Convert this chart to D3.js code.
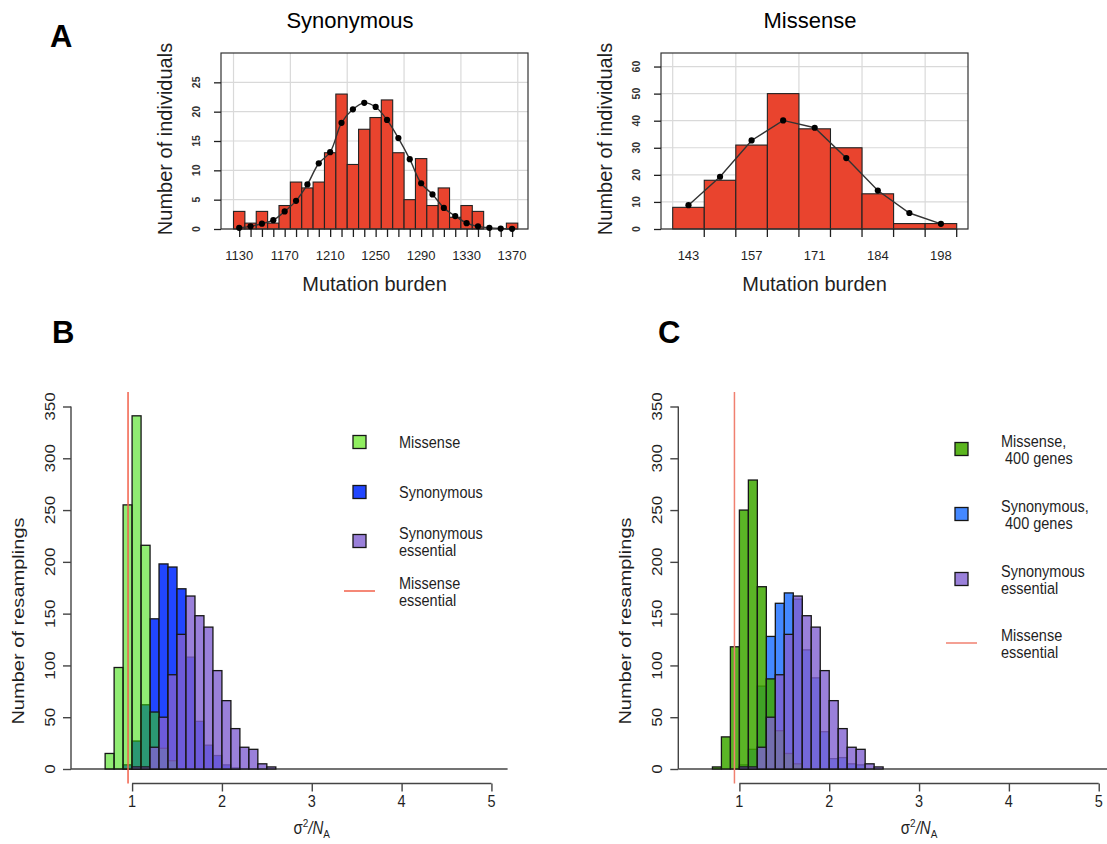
<!DOCTYPE html>
<html>
<head>
<meta charset="utf-8">
<script src="https://cdn.jsdelivr.net/npm/d3@7"></script>
<style>
  body { margin: 0; background: #fff; }
  svg { display: block; font-family: "Liberation Sans", Arial, Helvetica, sans-serif; }
</style>
</head>
<body>
<svg id="fig" width="1107" height="844"></svg>
<script>
// ---------- Panel A: per-individual mutation burden ----------
const synBurden   = [1130,1140,1150,1160,1170,1180,1190,1200,1210,1220,1230,1240,1250,1260,1270,1280,1290,1300,1310,1320,1330,1340,1350,1360,1370];
const synCounts   = [3,1,3,1,4,8,7,8,13,23,11,17,19,22,13,5,12,4,7,2,4,3,0,0,1];
const synExpected = [0.2,0.45,0.9,1.5,3.0,4.8,7.6,11.2,13.1,18.1,20.4,21.5,20.8,18.6,15.5,11.9,7.8,5.9,3.6,2.2,1.0,0.45,0.2,0.08,0.03];
const synXLabels  = [1130,1170,1210,1250,1290,1330,1370];
const synYTicks   = [0,5,10,15,20,25];
const synGridX    = [1125,1175,1225,1275,1325,1375];

const misBins     = ["143","150","157","164","171","177","184","191","198"];
const misCounts   = [8,18,31,50,37,30,13,2,2];
const misExpected = [8.8,19.3,32.7,40.1,37.4,26.2,14.2,5.9,1.9];
const misXLabels  = ["143","157","171","184","198"];
const misYTicks   = [0,10,20,30,40,50,60];

// ---------- Panels B and C: resampled sigma^2/N_A ----------
const binStarts   = [0.7,0.8,0.9,1.0,1.1,1.2,1.3,1.4,1.5,1.6,1.7,1.8,1.9,2.0,2.1,2.2,2.3,2.4,2.5];
const binWidth    = 0.1;
const bMissense   = [15,98,255,341,216,55,20,8,0,0,0,0,0,0,0,0,0,0,0];
const bSynonymous = [0,0,4,27,62,145,198,195,174,108,46,23,13,4,1,0,0,0,0];
const synEssential= [0,0,0,2,2,21,50,91,130,167,148,137,95,66,39,21,19,5,2];
const cMissense400= [2,31,118,250,279,176,87,37,15,5,0,0,0,0,0,0,0,0,0];
const cSynonym400 = [0,0,0,4,19,80,128,160,170,164,115,88,36,10,11,5,4,0,0];
const misEssentialB = 0.955;
const misEssentialC = 0.945;
const resampXTicks = [1,2,3,4,5];
const resampYTicks = [0,50,100,150,200,250,300,350];

const svg = d3.select("#fig");
const ink = "#1f1f1f";
const barRed = "#E9442E";

// panel letters
[["A", 50, 47], ["B", 52, 343], ["C", 658, 343]].forEach(([t, x, y]) => {
  svg.append("text").attr("x", x).attr("y", y).attr("font-size", 31)
     .attr("font-weight", "bold").attr("fill", "#000").text(t);
});

// ----- generic pieces for the two burden histograms -----
function burdenFrame(g, box, yScale, yTicks, title, titleX) {
  g.append("rect").attr("x", box.x0).attr("y", box.y0)
   .attr("width", box.x1 - box.x0).attr("height", box.y1 - box.y0)
   .attr("fill", "none").attr("stroke", "#333").attr("stroke-width", 1.2);
  const yAx = g.append("g").attr("transform", `translate(${box.x0},0)`)
    .call(d3.axisLeft(yScale).tickValues(yTicks).tickSize(7).tickFormat(""));
  yAx.select(".domain").remove();
  yAx.selectAll("line").attr("stroke", ink).attr("stroke-width", 1.3);
  g.selectAll(null).data(yTicks).join("text")
    .attr("transform", d => `translate(${box.x0 - 21},${yScale(d)}) rotate(-90)`)
    .attr("text-anchor", "middle").attr("font-size", 10.5).attr("font-weight", "bold").attr("fill", "#333")
    .text(d => d);
  g.append("text").attr("transform", `translate(${box.x0 - 56},${(box.y0 + box.y1) / 2 - 2}) rotate(-90)`)
    .attr("text-anchor", "middle").attr("dy", "0.35em").attr("font-size", 20).attr("fill", ink)
    .text("Number of individuals");
  g.append("text").attr("x", (box.x0 + box.x1) / 2).attr("y", 291)
    .attr("text-anchor", "middle").attr("font-size", 20).attr("fill", ink).text("Mutation burden");
  g.append("text").attr("x", titleX).attr("y", 28)
    .attr("text-anchor", "middle").attr("font-size", 22).attr("fill", "#000").text(title);
}

// ----- Synonymous burden -----
{
  const box = { x0: 221, x1: 528, y0: 53, y1: 229 };
  const x = d3.scaleLinear().domain([1114, 1384]).range([box.x0, box.x1]);
  const y = d3.scaleLinear().domain([0, 30]).range([box.y1, box.y0]);
  const g = svg.append("g");
  g.selectAll(null).data(synGridX).join("line")
    .attr("x1", d => x(d)).attr("x2", d => x(d)).attr("y1", box.y0).attr("y2", box.y1)
    .attr("stroke", "#d9d9d9").attr("stroke-width", 1.2);
  g.selectAll(null).data(synYTicks).join("line")
    .attr("x1", box.x0).attr("x2", box.x1).attr("y1", d => y(d)).attr("y2", d => y(d))
    .attr("stroke", "#d9d9d9").attr("stroke-width", 1.2);
  g.selectAll(null).data(synBurden.map((b, i) => ({ b, c: synCounts[i] })).filter(d => d.c > 0)).join("rect")
    .attr("x", d => x(d.b - 5)).attr("width", d => x(d.b + 5) - x(d.b - 5))
    .attr("y", d => y(d.c)).attr("height", d => y(0) - y(d.c))
    .attr("fill", barRed).attr("stroke", "#222").attr("stroke-width", 1.1);
  burdenFrame(g, box, y, synYTicks, "Synonymous", 350);
  const xAx = g.append("g").attr("transform", `translate(0,${box.y1})`)
    .call(d3.axisBottom(x).tickValues(synBurden).tickSize(8).tickFormat(""));
  xAx.select(".domain").remove();
  xAx.selectAll("line").attr("stroke", ink).attr("stroke-width", 1.3);
  g.selectAll(null).data(synXLabels).join("text")
    .attr("x", d => x(d)).attr("y", 260).attr("text-anchor", "middle")
    .attr("font-size", 13).attr("fill", ink).text(d => d);
  const pts = synBurden.map((b, i) => [x(b), y(synExpected[i])]);
  g.append("path").attr("d", d3.line().curve(d3.curveCatmullRom)(pts))
    .attr("fill", "none").attr("stroke", "#333").attr("stroke-width", 1.4);
  g.selectAll(null).data(pts).join("circle")
    .attr("cx", d => d[0]).attr("cy", d => d[1]).attr("r", 3.1).attr("fill", "#000");
}

// ----- Missense burden -----
{
  const box = { x0: 661, x1: 968, y0: 53, y1: 229 };
  const x = d3.scaleBand().domain(misBins).range([672.7, 956.7]).paddingInner(0).paddingOuter(0);
  const y = d3.scaleLinear().domain([0, 65]).range([box.y1, box.y0]);
  const g = svg.append("g");
  const gridBins = misBins.filter((_, i) => i % 2 === 0);
  g.selectAll(null).data(gridBins).join("line")
    .attr("x1", d => x(d)).attr("x2", d => x(d)).attr("y1", box.y0).attr("y2", box.y1)
    .attr("stroke", "#d9d9d9").attr("stroke-width", 1.2);
  g.selectAll(null).data(misYTicks).join("line")
    .attr("x1", box.x0).attr("x2", box.x1).attr("y1", d => y(d)).attr("y2", d => y(d))
    .attr("stroke", "#d9d9d9").attr("stroke-width", 1.2);
  g.selectAll(null).data(misBins.map((b, i) => ({ b, c: misCounts[i] }))).join("rect")
    .attr("x", d => x(d.b)).attr("width", x.bandwidth())
    .attr("y", d => y(d.c)).attr("height", d => y(0) - y(d.c))
    .attr("fill", barRed).attr("stroke", "#222").attr("stroke-width", 1.1);
  burdenFrame(g, box, y, misYTicks, "Missense", 810);
  const xAx = g.append("g").attr("transform", `translate(${x.bandwidth() / 2},${box.y1})`)
    .call(d3.axisBottom(x).tickSize(8).tickFormat(""));
  xAx.select(".domain").remove();
  xAx.selectAll("line").attr("stroke", ink).attr("stroke-width", 1.3);
  g.selectAll(null).data(misXLabels).join("text")
    .attr("x", d => x(d) + x.bandwidth() / 2).attr("y", 260).attr("text-anchor", "middle")
    .attr("font-size", 13).attr("fill", ink).text(d => d);
  const pts = misBins.map((b, i) => [x(b) + x.bandwidth() / 2, y(misExpected[i])]);
  g.append("path").attr("d", d3.line()(pts))
    .attr("fill", "none").attr("stroke", "#333").attr("stroke-width", 1.4);
  g.selectAll(null).data(pts).join("circle")
    .attr("cx", d => d[0]).attr("cy", d => d[1]).attr("r", 3.1).attr("fill", "#000");
}

// ----- resampling histograms -----
const stretch = 1.18;
function resamplePanel(o) {
  const g = svg.append("g");
  const x = d3.scaleLinear().domain([0.32, 5.18]).range([o.x0, o.x0 + 436.6]);
  const y = d3.scaleLinear().domain([-14, 364]).range([783.5, 392]);

  // baseline
  g.append("line").attr("x1", o.x0).attr("x2", x(5.18)).attr("y1", y(0)).attr("y2", y(0))
    .attr("stroke", "#444").attr("stroke-width", 1.4);

  o.series.forEach(s => {
    const data = binStarts.map((b, i) => ({ b, c: s.values[i] })).filter(d => d.c > 0);
    g.selectAll(null).data(data).join("rect")
      .attr("x", d => x(d.b)).attr("width", d => x(d.b + binWidth) - x(d.b))
      .attr("y", d => y(d.c)).attr("height", d => y(0) - y(d.c))
      .attr("fill", s.fill).attr("stroke", "#161616").attr("stroke-width", 1.3);
  });

  // vertical reference line
  g.append("line").attr("x1", x(o.refValue)).attr("x2", x(o.refValue))
    .attr("y1", y(364)).attr("y2", y(-14)).attr("stroke", o.refColor).attr("stroke-width", 1.5);

  // y axis
  const yAx = g.append("g").attr("transform", `translate(${o.x0},0)`)
    .call(d3.axisLeft(y).tickValues(resampYTicks).tickSize(8).tickFormat("").tickSizeOuter(0));
  yAx.select(".domain").attr("d", `M0,${y(0)}V${y(350)}`).attr("stroke", "#444").attr("stroke-width", 1.4);
  yAx.selectAll("line").attr("stroke", "#444").attr("stroke-width", 1.4);
  g.selectAll(null).data(resampYTicks).join("text")
    .attr("transform", d => `translate(${o.x0 - 16},${y(d)}) rotate(-90) scale(${stretch},1)`)
    .attr("text-anchor", "middle").attr("font-size", 14.5).attr("fill", ink).text(d => d);
  g.append("text")
    .attr("transform", `translate(${o.x0 - 47},${621}) rotate(-90) scale(${stretch},1)`)
    .attr("text-anchor", "middle").attr("font-size", 17).attr("fill", ink)
    .text("Number of resamplings");

  // x axis
  const xAx = g.append("g").attr("transform", `translate(0,${y(-14)})`)
    .call(d3.axisBottom(x).tickValues(resampXTicks).tickSize(8).tickFormat("").tickSizeOuter(0));
  xAx.select(".domain").attr("d", `M${x(1)},0H${x(5)}`).attr("stroke", "#444").attr("stroke-width", 1.4);
  xAx.selectAll("line").attr("stroke", "#444").attr("stroke-width", 1.4);
  g.selectAll(null).data(resampXTicks).join("text")
    .attr("transform", d => `translate(${x(d)},${807}) scale(1,${stretch})`)
    .attr("text-anchor", "middle").attr("font-size", 14.5).attr("fill", ink).text(d => d);
  const lab = g.append("text")
    .attr("transform", `translate(${(x(1) + x(5)) / 2},${834}) scale(1,${stretch})`)
    .attr("text-anchor", "middle").attr("font-size", 15).attr("fill", ink);
  lab.append("tspan").text("σ");
  lab.append("tspan").attr("font-size", 10).attr("dy", -6).text("2");
  lab.append("tspan").attr("dy", 6).attr("font-style", "italic").text("/N");
  lab.append("tspan").attr("font-size", 10).attr("dy", 3).text("A");

  // legend
  o.legend.forEach(item => {
    if (item.kind === "box") {
      g.append("rect").attr("x", o.legX).attr("y", item.y - 6.5).attr("width", 13).attr("height", 13)
        .attr("fill", item.fill).attr("stroke", "#161616").attr("stroke-width", 1.3);
    } else {
      g.append("line").attr("x1", o.legX - 9).attr("x2", o.legX + 22).attr("y1", item.y).attr("y2", item.y)
        .attr("stroke", item.fill).attr("stroke-width", 1.5);
    }
    const n = item.lines.length;
    item.lines.forEach((t, k) => {
      g.append("text")
        .attr("transform", `translate(${o.legX + 46},${item.y + (k - (n - 1) / 2) * 17}) scale(1,${stretch})`)
        .attr("dy", "0.35em").attr("font-size", 14.5).attr("fill", ink)
        .style("white-space", "pre").text(t);
    });
  });
}

const greenB = "rgba(53,220,0,0.55)", blueB = "#2146FF", purple = "rgba(129,96,209,0.8)";
const greenC = "rgba(62,168,0,0.85)", blueC = "#4488FF";

resamplePanel({
  x0: 71, refValue: misEssentialB, refColor: "#F2604A",
  series: [
    { values: bSynonymous, fill: blueB },
    { values: bMissense, fill: greenB },
    { values: synEssential, fill: purple }
  ],
  legX: 353,
  legend: [
    { kind: "box", y: 442, fill: "#90EE60", lines: ["Missense"] },
    { kind: "box", y: 492, fill: blueB, lines: ["Synonymous"] },
    { kind: "box", y: 541, fill: "#9A80DA", lines: ["Synonymous", "essential"] },
    { kind: "line", y: 591, fill: "#F2604A", lines: ["Missense", "essential"] }
  ]
});

resamplePanel({
  x0: 678.3, refValue: misEssentialC, refColor: "#F08070",
  series: [
    { values: cSynonym400, fill: blueC },
    { values: cMissense400, fill: greenC },
    { values: synEssential, fill: purple }
  ],
  legX: 955,
  legend: [
    { kind: "box", y: 449, fill: "#5BB51E", lines: ["Missense,", " 400 genes"] },
    { kind: "box", y: 514, fill: blueC, lines: ["Synonymous,", " 400 genes"] },
    { kind: "box", y: 579, fill: "#9A80DA", lines: ["Synonymous", "essential"] },
    { kind: "line", y: 643, fill: "#F08070", lines: ["Missense", "essential"] }
  ]
});
</script>
</body>
</html>
